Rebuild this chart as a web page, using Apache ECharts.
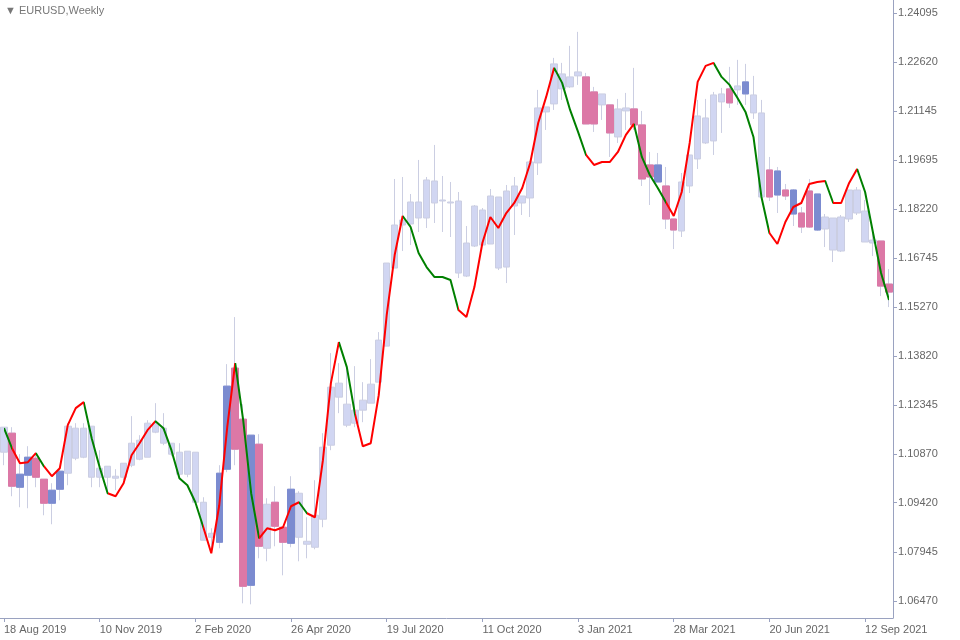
<!DOCTYPE html>
<html>
<head>
<meta charset="utf-8">
<script src="https://cdn.jsdelivr.net/npm/echarts@6/dist/echarts.min.js"></script>
<style>
html,body{margin:0;padding:0;background:#fff}
#container{width:960px;height:640px}
</style>
</head>
<body>
<div id="container"></div>
<script>
// weekly EURUSD, body top / body bottom / high / low, kind: L light, P pink, B blue
var bodyTop=[1.1168,1.1150,1.1027,1.1078,1.1075,1.1012,1.0979,1.1036,1.1171,1.1165,1.1165,1.1171,1.1045,1.1051,1.1021,1.1060,1.1120,1.1129,1.1180,1.1180,1.1165,1.1120,1.1093,1.1096,1.1093,1.0943,1.0850,1.1030,1.1291,1.1345,
1.1192,1.1144,1.1117,1.0937,1.0943,1.0868,1.0982,1.0970,1.0826,1.0904,1.1108,1.1288,1.1300,1.1237,1.1219,1.1249,1.1297,1.1429,1.1660,1.1774,
1.1789,1.1843,1.1843,1.1909,1.1906,1.1849,1.1843,1.1846,1.1720,1.1831,1.1819,1.1861,1.1858,1.1876,1.1891,1.1861,1.1963,1.2125,1.2128,1.2257,
1.2227,1.2218,1.2233,1.2218,1.2173,1.2167,1.2134,1.2122,1.2125,1.2122,1.2074,1.1954,1.1954,1.1891,1.1792,1.1903,1.1984,1.2101,1.2095,1.2164,
1.2167,1.2182,1.2191,1.2203,1.2164,1.2110,1.1939,1.1936,1.1879,1.1879,1.1810,1.1876,1.1867,1.1798,1.1795,1.1798,1.1879,1.1879,1.1816,1.1729,1.1726,1.1597];
var bodyBottom=[1.1093,1.0991,1.0988,1.1024,1.1018,1.0940,1.0940,1.0982,1.1030,1.1075,1.1078,1.1018,1.1018,1.1018,1.1015,1.1018,1.1054,1.1072,1.1078,1.1153,1.1120,1.1087,1.1027,1.1027,1.0943,1.0829,1.0838,1.0823,1.1042,1.1102,
1.0691,1.0694,1.0811,1.0805,1.0871,1.0823,1.0820,1.0838,1.0817,1.0808,1.0892,1.1114,1.1258,1.1174,1.1180,1.1219,1.1240,1.1303,1.1411,1.1645,
1.1774,1.1777,1.1795,1.1795,1.1840,1.1846,1.1840,1.1630,1.1621,1.1711,1.1714,1.1717,1.1645,1.1648,1.1831,1.1840,1.1855,1.1960,1.2113,1.2137,
1.2182,1.2188,1.2221,1.2077,1.2077,1.2134,1.2050,1.2038,1.2116,1.2074,1.1912,1.1918,1.1903,1.1792,1.1759,1.1756,1.1891,1.1972,1.2020,1.2026,
1.2143,1.2140,1.2179,1.2167,1.2110,1.1858,1.1858,1.1864,1.1861,1.1807,1.1768,1.1768,1.1759,1.1762,1.1699,1.1696,1.1792,1.1810,1.1723,1.1720,1.1591,1.1573];
var highs=[1.1168,1.1168,1.1087,1.1111,1.1090,1.1012,1.1000,1.1045,1.1180,1.1180,1.1180,1.1171,1.1099,1.1051,1.1042,1.1060,1.1201,1.1144,1.1189,1.1240,1.1210,1.1120,1.1120,1.1096,1.1093,1.0958,1.0865,1.1054,1.1357,1.1498,
1.1237,1.1144,1.1147,1.0955,1.0991,1.0868,1.1021,1.0976,1.0898,1.1009,1.1150,1.1390,1.1360,1.1354,1.1351,1.1303,1.1372,1.1453,1.1660,1.1912,
1.1918,1.1867,1.1969,1.1918,1.2014,1.1921,1.1903,1.1873,1.1771,1.1834,1.1825,1.1882,1.1858,1.1894,1.1918,1.1861,1.1963,1.2179,1.2128,1.2275,
1.2260,1.2311,1.2353,1.2230,1.2188,1.2167,1.2134,1.2152,1.2170,1.2245,1.2116,1.1993,1.1990,1.1948,1.1792,1.1930,1.1984,1.2149,1.2152,1.2173,
1.2185,1.2248,1.2269,1.2257,1.2221,1.2149,1.1978,1.1948,1.1897,1.1882,1.1828,1.1912,1.1867,1.1807,1.1795,1.1804,1.1879,1.1888,1.1849,1.1750,1.1726,1.1642];
var lows=[1.1054,1.0961,1.0928,1.0925,1.0988,1.0904,1.0877,1.0949,1.0994,1.1069,1.1075,1.0988,1.0988,1.0970,1.0979,1.1009,1.1048,1.1069,1.1078,1.1150,1.1114,1.1081,1.1018,1.1018,1.0943,1.0829,1.0805,1.0805,1.1033,1.1054,
1.0640,1.0637,1.0775,1.0766,1.0811,1.0724,1.0808,1.0766,1.0775,1.0802,1.0868,1.1099,1.1210,1.1168,1.1168,1.1183,1.1240,1.1303,1.1411,1.1645,
1.1696,1.1714,1.1753,1.1765,1.1780,1.1753,1.1738,1.1615,1.1618,1.1708,1.1714,1.1717,1.1639,1.1600,1.1744,1.1804,1.1798,1.1924,1.2059,1.2119,
1.2149,1.2185,1.2194,1.2077,1.2053,1.2089,1.1978,1.2020,1.2059,1.2059,1.1891,1.1834,1.1903,1.1762,1.1702,1.1738,1.1870,1.1942,1.2017,1.1984,
1.2050,1.2125,1.2134,1.2134,1.2092,1.1858,1.1846,1.1810,1.1849,1.1771,1.1750,1.1765,1.1756,1.1708,1.1663,1.1693,1.1783,1.1804,1.1723,1.1681,1.1561,1.1528];
var kinds='LPBBPPBBLLLLLLLLLLLLLLLLLLLBBPPBPLPPBLLLLLLLLLLLLLLLLLLLLLLLLLLLLLLLLLLLLPPLPLLPPPBPPLLLLLLPLBLLPBPBPPBLLLLLLLPPP'.split('');
var trendLine=[1.1165,1.1105,1.1060,1.1063,1.1090,1.1051,1.1021,1.1045,1.1174,1.1225,1.1243,1.1135,1.1048,1.0970,1.0961,1.1000,1.1084,1.1120,1.1159,1.1186,1.1165,1.1099,1.1015,1.0994,1.0943,1.0868,1.0790,1.0934,1.1168,1.1360,
1.1189,1.0970,1.0835,1.0865,1.0859,1.0868,1.0931,1.0943,1.0910,1.0898,1.1069,1.1300,1.1423,1.1348,1.1210,1.1111,1.1120,1.1264,1.1504,1.1684,
1.1801,1.1768,1.1690,1.1648,1.1618,1.1618,1.1609,1.1519,1.1498,1.1588,1.1720,1.1798,1.1765,1.1810,1.1840,1.1885,1.1960,1.2080,1.2158,1.2245,
1.2200,1.2119,1.2053,1.1984,1.1954,1.1963,1.1963,1.1993,1.2044,1.2077,1.1978,1.1924,1.1885,1.1843,1.1801,1.1873,1.2020,1.2203,1.2251,1.2260,
1.2218,1.2194,1.2155,1.2113,1.2038,1.1858,1.1750,1.1717,1.1783,1.1828,1.1840,1.1897,1.1903,1.1906,1.1840,1.1840,1.1900,1.1942,1.1873,1.1750,1.1630,1.1549];
// colour of each segment (bar i-1 -> bar i), U = up/red, D = down/green
var segTrend='DUUUDUUUUUDDDUUUUUUDDDDDDUUUUDDDUUUUUDUUUUDDUUUUUUDDDDDDDUUUUUUUUUUUUDDDDUUUUUUDDDDUUUUUUDDDDDDDUUUUUUUDUUUDDDD'.split('');
var priceTicks=[1.24095,1.22620,1.21145,1.19695,1.18220,1.16745,1.15270,1.13820,1.12345,1.10870,1.09420,1.07945,1.06470];
var startDate=new Date(Date.UTC(2019,7,18));

var months=['Jan','Feb','Mar','Apr','May','Jun','Jul','Aug','Sep','Oct','Nov','Dec'];
var dates=[];
for(var i=0;i<bodyTop.length;i++){
	var d=new Date(startDate.getTime()+i*7*86400000);
	dates.push(d.getUTCDate()+' '+months[d.getUTCMonth()]+' '+d.getUTCFullYear());
}
var fill={L:'#d1d6f2',P:'#dc78a6',B:'#7b8bd0'};
var wickData=[],bodyData=[];
for(var i=0;i<bodyTop.length;i++){
	var up=kinds[i]!='P';
	var o=up?bodyBottom[i]:bodyTop[i], c=up?bodyTop[i]:bodyBottom[i];
	wickData.push([o,c,lows[i],highs[i]]);
	if(kinds[i]=='L'){bodyData.push('-');continue;}
	bodyData.push({value:[o,c,Math.min(o,c),Math.max(o,c)],itemStyle:{color:fill[kinds[i]],color0:fill[kinds[i]],borderColor:fill[kinds[i]],borderColor0:fill[kinds[i]]}});
}
var pieces=[];
for(var i=1;i<trendLine.length;i++){
	pieces.push({gt:i-1,lte:i,color:segTrend[i-1]=='U'?'#ff0000':'#008000'});
}
pieces[0].gte=0;delete pieces[0].gt;

var myChart=echarts.init(document.getElementById('container'));
var option={
	animation:false,
	backgroundColor:'#ffffff',
	textStyle:{fontFamily:'Liberation Sans'},
	graphic:[{type:'text',left:5,top:5,style:{text:'\u25bc EURUSD,Weekly',fill:'#777',font:'11px Liberation Sans'}}],
	grid:{left:0,top:0,right:67,bottom:22},
	xAxis:{
		type:'category',data:dates,boundaryGap:true,
		axisLine:{show:true,lineStyle:{color:'#9aa2c0'}},
		axisTick:{show:true,interval:11,length:4,alignWithLabel:true,lineStyle:{color:'#9aa2c0'}},
		axisLabel:{interval:11,color:'#666',fontSize:11,align:'left',margin:6},
		splitLine:{show:false}
	},
	yAxis:{
		type:'value',position:'right',min:1.0596,max:1.24485,
		axisLine:{show:true,lineStyle:{color:'#9aa2c0'}},
		axisTick:{show:true,customValues:priceTicks,length:4,lineStyle:{color:'#9aa2c0'}},
		axisLabel:{customValues:priceTicks,color:'#666',fontSize:11,margin:5,formatter:function(v){return v.toFixed(5);}},
		splitLine:{show:false}
	},
	visualMap:{show:false,type:'piecewise',dimension:0,seriesIndex:2,pieces:pieces},
	series:[
		{type:'candlestick',data:wickData,barWidth:7,
			itemStyle:{color:'#d1d6f2',color0:'#d1d6f2',borderColor:'#cbcee2',borderColor0:'#cbcee2',borderWidth:1}},
		{type:'candlestick',data:bodyData,barWidth:7,itemStyle:{borderWidth:1}},
		{type:'line',data:trendLine,symbol:'none',lineStyle:{width:2}}
	]
};
myChart.setOption(option,true);
</script>
</body>
</html>
